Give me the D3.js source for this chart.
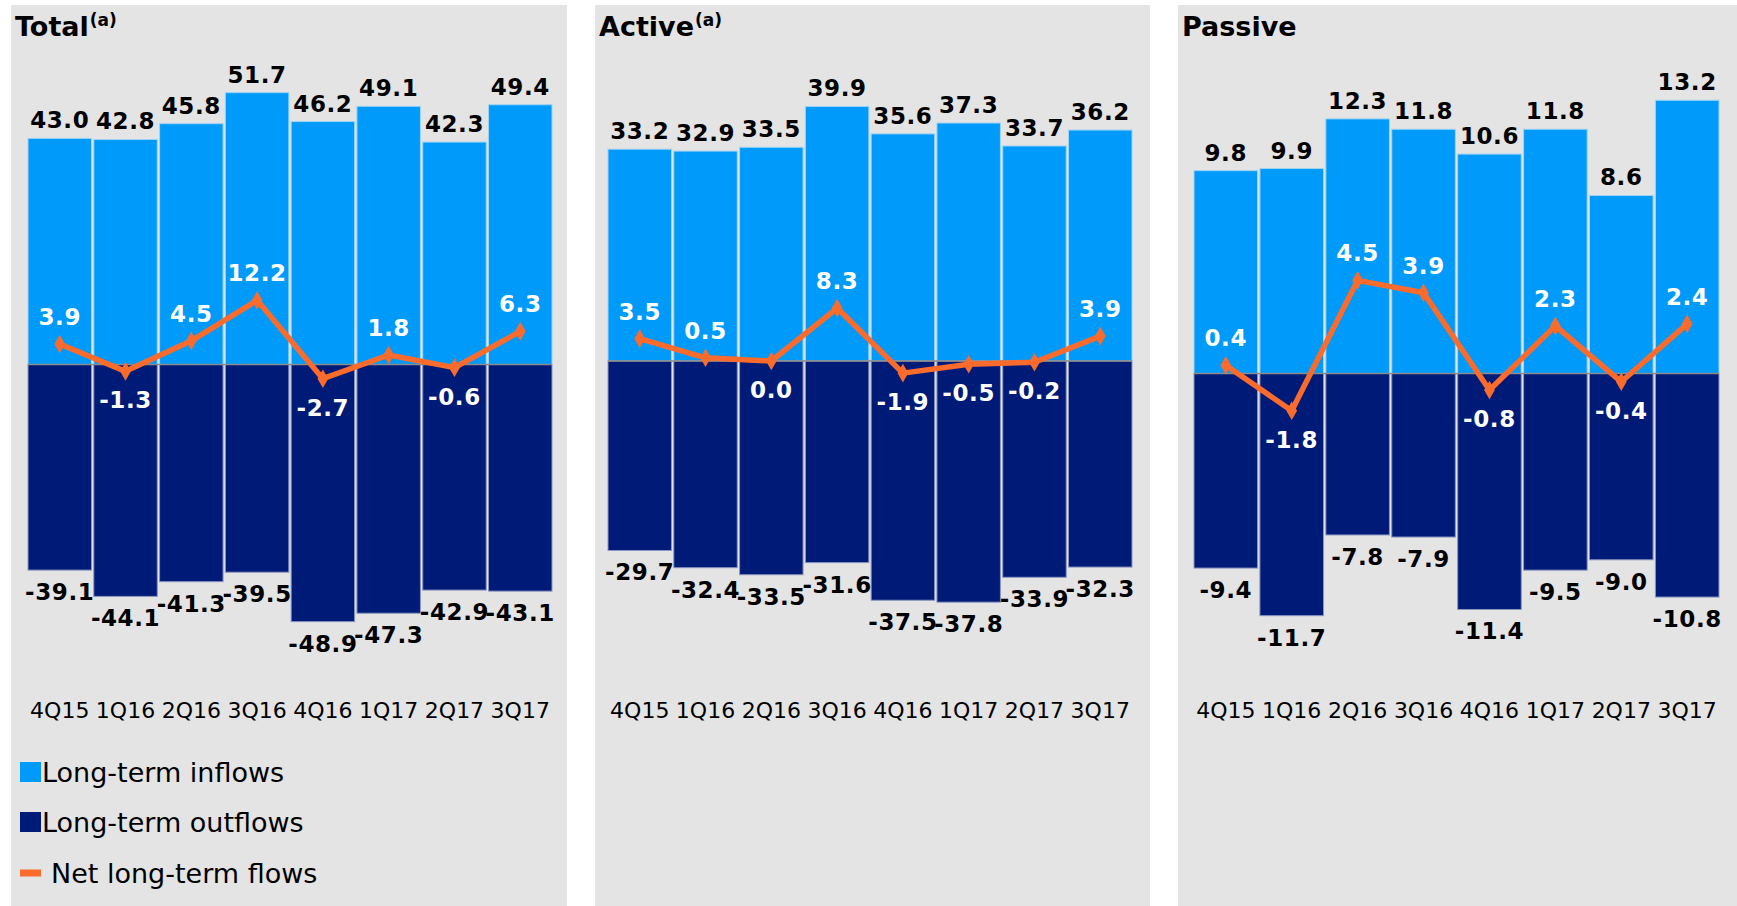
<!DOCTYPE html>
<html>
<head>
<meta charset="utf-8">
<script src="https://cdn.jsdelivr.net/npm/d3@7"></script>
<style>
  html, body { margin: 0; padding: 0; background: #fff; }
  svg { display: block; font-family: 'DejaVu Sans', Verdana, sans-serif; }
</style>
</head>
<body>
<svg width="1737" height="906"></svg>
<script>
const categories = ['4Q15', '1Q16', '2Q16', '3Q16', '4Q16', '1Q17', '2Q17', '3Q17'];

const totalInflows = [43.0, 42.8, 45.8, 51.7, 46.2, 49.1, 42.3, 49.4];
const totalOutflows = [-39.1, -44.1, -41.3, -39.5, -48.9, -47.3, -42.9, -43.1];
const totalNet = [3.9, -1.3, 4.5, 12.2, -2.7, 1.8, -0.6, 6.3];

const activeInflows = [33.2, 32.9, 33.5, 39.9, 35.6, 37.3, 33.7, 36.2];
const activeOutflows = [-29.7, -32.4, -33.5, -31.6, -37.5, -37.8, -33.9, -32.3];
const activeNet = [3.5, 0.5, 0.0, 8.3, -1.9, -0.5, -0.2, 3.9];

const passiveInflows = [9.8, 9.9, 12.3, 11.8, 10.6, 11.8, 8.6, 13.2];
const passiveOutflows = [-9.4, -11.7, -7.8, -7.9, -11.4, -9.5, -9.0, -10.8];
const passiveNet = [0.4, -1.8, 4.5, 3.9, -0.8, 2.3, -0.4, 2.4];

const legendLabels = ['Long-term inflows', 'Long-term outflows', 'Net long-term flows'];

const colorIn = '#009bfa';
const colorOut = '#001a78';
const colorNet = '#fb6b2c';
const locale = d3.formatLocale({ decimal: '.', thousands: ',', grouping: [3], currency: ['$', ''], minus: '-' });
const fmt = locale.format('.1f');

const panels = [
  { title: 'Total', sup: '(a)', bg: [11, 567], bars: [28, 552], domain: [-60, 60], range: [680, 49],
    inflows: totalInflows, outflows: totalOutflows, net: totalNet, legend: true },
  { title: 'Active', sup: '(a)', bg: [595, 1150], bars: [608, 1132], domain: [-50, 50], range: [680, 42],
    inflows: activeInflows, outflows: activeOutflows, net: activeNet },
  { title: 'Passive', sup: null, bg: [1178, 1737], bars: [1194, 1719], domain: [-15, 15], range: [684, 63],
    inflows: passiveInflows, outflows: passiveOutflows, net: passiveNet }
];

const svg = d3.select('svg');

panels.forEach((p) => {
  const g = svg.append('g');

  g.append('rect')
    .attr('x', p.bg[0])
    .attr('y', 5)
    .attr('width', p.bg[1] - p.bg[0])
    .attr('height', 901)
    .attr('fill', '#e4e4e4');

  const title = g.append('text')
    .attr('x', p.bg[0] + 4)
    .attr('y', 36)
    .attr('font-size', 27)
    .attr('font-weight', 'bold')
    .attr('fill', '#000')
    .text(p.title);
  if (p.sup) {
    title.append('tspan')
      .attr('font-size', 17)
      .attr('dy', -10)
      .attr('dx', 1)
      .text(p.sup);
  }

  const x = d3.scaleBand()
    .domain(categories)
    .range(p.bars)
    .paddingInner(0.035)
    .paddingOuter(0);

  const y = d3.scaleLinear()
    .domain(p.domain)
    .range(p.range);

  const cx = d => x(d) + x.bandwidth() / 2;

  const rows = categories.map((c, i) => ({
    cat: c, inflow: p.inflows[i], outflow: p.outflows[i], net: p.net[i]
  }));

  // inflow bars
  g.append('g').selectAll('rect')
    .data(rows)
    .enter().append('rect')
      .attr('x', d => x(d.cat))
      .attr('y', d => y(d.inflow))
      .attr('width', x.bandwidth())
      .attr('height', d => y(0) - y(d.inflow))
      .attr('fill', colorIn)
      .attr('stroke', '#9fd3f5')
      .attr('stroke-width', 1);

  // outflow bars
  g.append('g').selectAll('rect')
    .data(rows)
    .enter().append('rect')
      .attr('x', d => x(d.cat))
      .attr('y', y(0))
      .attr('width', x.bandwidth())
      .attr('height', d => y(d.outflow) - y(0))
      .attr('fill', colorOut)
      .attr('stroke', '#8a96c0')
      .attr('stroke-width', 1);

  // zero line
  g.append('line')
    .attr('x1', p.bars[0])
    .attr('x2', p.bars[1])
    .attr('y1', y(0))
    .attr('y2', y(0))
    .attr('stroke', '#8c8c8c')
    .attr('stroke-width', 1.5);

  // value labels
  const valueText = sel => sel
    .attr('text-anchor', 'middle')
    .attr('font-size', 23)
    .attr('font-weight', 'bold')
    .attr('letter-spacing', 0.6);

  g.append('g').selectAll('text')
    .data(rows)
    .enter().append('text')
      .call(valueText)
      .attr('x', d => cx(d.cat))
      .attr('y', d => y(d.inflow) - 10)
      .attr('fill', '#000')
      .text(d => fmt(d.inflow));

  g.append('g').selectAll('text')
    .data(rows)
    .enter().append('text')
      .call(valueText)
      .attr('x', d => cx(d.cat))
      .attr('y', d => y(d.outflow) + 30)
      .attr('fill', '#000')
      .text(d => fmt(d.outflow));

  // net line
  const line = d3.line()
    .x(d => cx(d.cat))
    .y(d => y(d.net));

  g.append('path')
    .datum(rows)
    .attr('d', line)
    .attr('fill', 'none')
    .attr('stroke', colorNet)
    .attr('stroke-width', 5.5)
    .attr('stroke-linejoin', 'round');

  g.append('g').selectAll('path')
    .data(rows)
    .enter().append('path')
      .attr('d', d3.symbol().type(d3.symbolDiamond).size(100))
      .attr('transform', d => `translate(${cx(d.cat)},${y(d.net)})`)
      .attr('fill', colorNet);

  g.append('g').selectAll('text')
    .data(rows)
    .enter().append('text')
      .call(valueText)
      .attr('x', d => cx(d.cat))
      .attr('y', d => (d.net > 0 ? y(d.net) - 19 : y(d.net) + 37))
      .attr('fill', '#fff')
      .text(d => fmt(d.net));

  // category axis labels
  g.append('g').selectAll('text')
    .data(categories)
    .enter().append('text')
      .attr('x', d => cx(d))
      .attr('y', 718)
      .attr('text-anchor', 'middle')
      .attr('font-size', 22)
      .attr('fill', '#000')
      .text(d => d);

  if (p.legend) {
    const lg = g.append('g').attr('transform', `translate(${p.bg[0] + 9},0)`);
    const legendColors = [colorIn, colorOut, colorNet];
    const rowY = [772, 822, 873];
    legendLabels.forEach((label, i) => {
      lg.append('rect')
        .attr('x', 0)
        .attr('y', i < 2 ? rowY[i] - 10 : rowY[i] - 3.5)
        .attr('width', 21)
        .attr('height', i < 2 ? 20 : 7)
        .attr('fill', legendColors[i]);
      lg.append('text')
        .attr('x', i < 2 ? 22 : 31)
        .attr('y', rowY[i])
        .attr('dy', '0.36em')
        .attr('font-size', 27)
        .attr('fill', '#000')
        .text(label);
    });
  }
});
</script>
</body>
</html>
